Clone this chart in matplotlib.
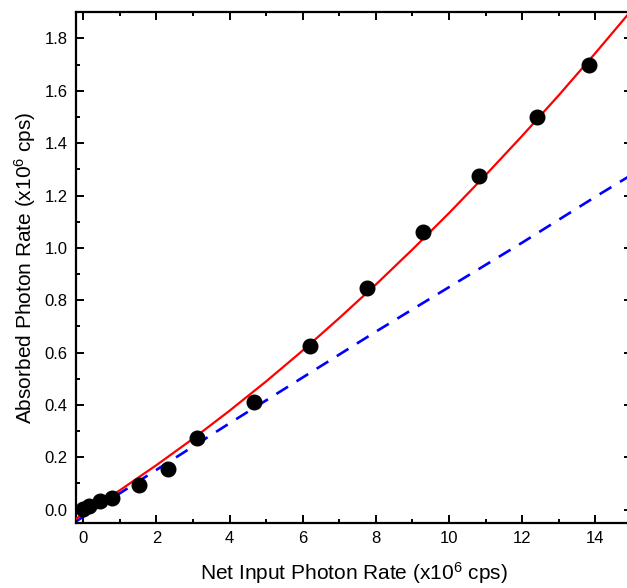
import numpy as np
import matplotlib
matplotlib.use("Agg")
import matplotlib.pyplot as plt
from matplotlib.ticker import MultipleLocator

# measured points (x10^6 cps)
net_input = [-0.02, 0.15, 0.46, 0.78, 1.53, 2.32, 3.10, 4.66, 6.19, 7.76, 9.29, 10.83, 12.41, 13.84]
absorbed = [0.004, 0.014, 0.033, 0.046, 0.094, 0.154, 0.275, 0.412, 0.626, 0.845, 1.062, 1.273, 1.500, 1.697]

# red fit curve
fit_x = [-0.2, 0, 1, 2, 3, 4, 5, 6, 7, 8, 9, 10, 11, 12, 13, 14, 14.9, 15.2]
fit_y = [-0.035, -0.017, 0.074, 0.170, 0.271, 0.378, 0.490, 0.608, 0.732, 0.860,
         0.994, 1.133, 1.278, 1.428, 1.583, 1.744, 1.893, 1.94]

# blue dashed line
lin_x = [-0.2, 2, 4, 6, 8, 10, 12, 14, 15]
lin_y = [-0.045, 0.152, 0.330, 0.505, 0.680, 0.850, 1.020, 1.195, 1.280]

plt.rcParams["font.family"] = ["Liberation Sans", "DejaVu Sans"]
plt.rcParams["mathtext.fontset"] = "custom"
plt.rcParams["mathtext.rm"] = "Liberation Sans"
plt.rcParams["mathtext.it"] = "Liberation Sans"

fig = plt.figure(figsize=(6.27, 5.88), dpi=100)
ax = fig.add_axes([76 / 627, 65.3 / 588, 555.9 / 627, 510.4 / 588])

ax.plot(lin_x, lin_y, color="#0000ff", lw=1.9, linestyle=(0, (5.2, 3.8)), zorder=2)
ax.plot(fit_x, fit_y, color="#ff0000", lw=1.6, zorder=3)
ax.plot(net_input, absorbed, "o", color="black", ms=10.5, zorder=4)

ax.set_xlim(-0.2, 15)
ax.set_ylim(-0.05, 1.9)
ax.xaxis.set_major_locator(MultipleLocator(2))
ax.xaxis.set_minor_locator(MultipleLocator(1))
ax.yaxis.set_major_locator(MultipleLocator(0.2))
ax.yaxis.set_minor_locator(MultipleLocator(0.1))
ax.yaxis.set_major_formatter(plt.FormatStrFormatter("%.1f"))
ax.xaxis.set_major_formatter(plt.FormatStrFormatter("%d"))

ax.tick_params(which="both", direction="in", top=True, right=True, width=1.4,
               labelsize=12, pad=6)
ax.tick_params(axis="x", pad=6)
ax.tick_params(which="major", length=5.5)
ax.tick_params(which="minor", length=3)
for sp in ax.spines.values():
    sp.set_linewidth(1.6)

ax.set_xlabel("Net Input Photon Rate (x10$^6$ cps)", fontsize=15, labelpad=10)
ax.set_ylabel("Absorbed Photon Rate (x10$^6$ cps)", fontsize=15, labelpad=5)

fig.savefig("out.png", dpi=100)
